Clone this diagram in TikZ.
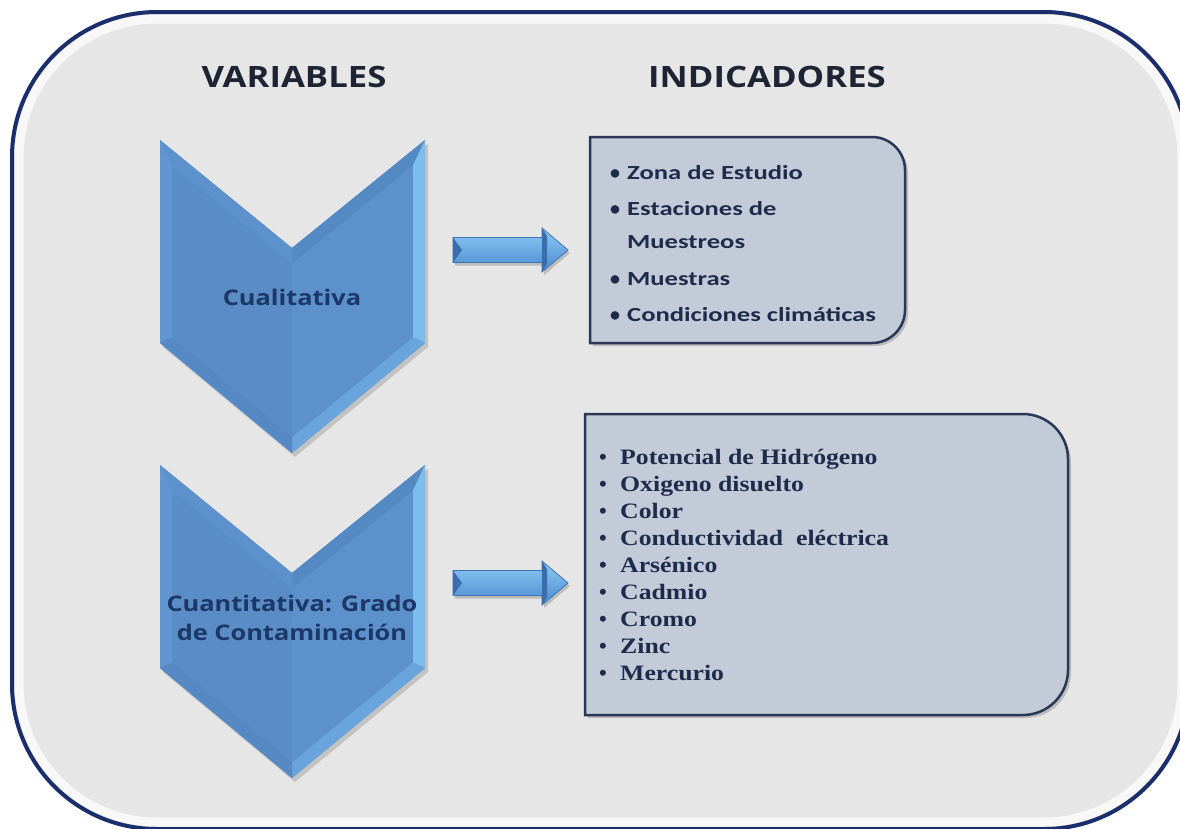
\documentclass[tikz,border=0pt]{standalone}
\usepackage{fontspec}
\usepackage{graphicx}
\newfontfamily\hfont{Open Sans}
\newfontfamily\cfont{Carlito}
\newfontfamily\tfont{Liberation Serif}
\newcommand\hx[1]{\scalebox{1.18}[1]{#1}}
\newcommand\cx[1]{\scalebox{1.33}[1]{#1}}
\newcommand\tx[1]{\scalebox{1.17}[1]{#1}}
\definecolor{outerfill}{HTML}{E6E6E6}
\definecolor{outerline}{HTML}{1B2E6C}
\definecolor{hdrc}{HTML}{1D2433}
\definecolor{chevc}{HTML}{1C3868}
\definecolor{listc}{HTML}{1E2B4A}
\definecolor{boxfill}{HTML}{C3CAD8}
\definecolor{boxline}{HTML}{2A3756}
\definecolor{chevmain}{HTML}{5B8FC9}
\definecolor{chevleft}{HTML}{5A8CC5}
\definecolor{chevright}{HTML}{5C91CB}
\definecolor{bvL}{HTML}{6296D0}
\definecolor{bvTL}{HTML}{5D91CB}
\definecolor{bvTR}{HTML}{5589C4}
\definecolor{bvR}{HTML}{7DBDEB}
\definecolor{bvBR}{HTML}{69A4DC}
\definecolor{bvBL}{HTML}{5689C3}
\definecolor{arrtop}{HTML}{8ECAF4}
\definecolor{arrbot}{HTML}{4A8AD0}
\definecolor{arredge}{HTML}{3E74B6}
\definecolor{arrdark}{HTML}{3A6DAE}
\begin{document}
\begin{tikzpicture}[x=1pt,y=-1pt,
  hdr/.style={font={\hfont\bfseries\fontsize{29.4}{35}\selectfont}, text=hdrc, inner sep=0pt},
  chevtxt/.style={font={\hfont\bfseries\fontsize{21.5}{29}\selectfont}, text=chevc, align=center, inner sep=0pt},
  citem/.style={font={\cfont\bfseries\fontsize{20}{24}\selectfont}, text=listc, anchor=base west, inner sep=0pt},
  cbul/.style={font={\cfont\bfseries\fontsize{20}{24}\selectfont}, text=listc, anchor=base, inner sep=0pt},
  titem/.style={font={\tfont\bfseries\fontsize{22}{26}\selectfont}, text=listc, anchor=base west, inner sep=0pt},
  tbul/.style={font={\tfont\bfseries\fontsize{22}{26}\selectfont}, text=listc, anchor=base, inner sep=0pt},
  chev/.pic={
    \fill[black,opacity=.15] (163,144) -- (295,252) -- (428,144) -- (428,347) -- (295,457) -- (163,347) -- cycle;
    \fill[chevmain] (160,140) -- (292,248) -- (425,140) -- (425,343) -- (292,453) -- (160,343) -- cycle;
    \fill[chevleft] (172,165.3) -- (292,263.5) -- (292,437.4) -- (172,337.4) -- cycle;
    \fill[chevright] (292,263.5) -- (413,165.3) -- (413,337.4) -- (292,437.4) -- cycle;
    \fill[bvL] (160,140) -- (172,165.3) -- (172,337.4) -- (160,343) -- cycle;
    \fill[bvTL] (160,140) -- (292,248) -- (292,263.5) -- (172,165.3) -- cycle;
    \fill[bvTR] (292,248) -- (425,140) -- (413,165.3) -- (292,263.5) -- cycle;
    \fill[bvR] (425,140) -- (425,343) -- (413,337.4) -- (413,165.3) -- cycle;
    \fill[bvBR] (425,343) -- (292,453) -- (292,437.4) -- (413,337.4) -- cycle;
    \fill[bvBL] (160,343) -- (172,337.4) -- (292,437.4) -- (292,453) -- cycle;
  },
  barrow/.pic={
    \fill[black,opacity=.18] (2,-9.5) -- (91,-9.5) -- (91,-19) -- (117,3) -- (91,25) -- (91,15.5) -- (2,15.5) -- cycle;
    \shade[top color=arrtop, bottom color=arrbot, draw=arredge, line width=.8pt] (0,-12.5) -- (89,-12.5) -- (89,-22) -- (115,0) -- (89,22) -- (89,12.5) -- (0,12.5) -- cycle;
    \fill[arrdark] (0,-12.5) -- (9,0) -- (0,12.5) -- cycle;
    \fill[arrdark] (89,-22) -- (94,-14) -- (94,14) -- (89,22) -- cycle;
  }
]
\useasboundingbox (0,0) rectangle (1180,828);
\fill[white] (0,0) rectangle (1180,828);
\begin{scope}
\clip (0,0) rectangle (1180,828);
\fill[outerfill, rounded corners=145pt] (12,12) rectangle (1189,829);
\draw[white, line width=9pt, opacity=.75, rounded corners=138pt] (19,19) rectangle (1182,822);
\draw[outerline, line width=4pt, rounded corners=145pt] (12,12) rectangle (1189,829);
\end{scope}

% headers
\node[hdr] (vars) at (294,77) {\hx{VARIABLES}};
\node[hdr] (inds) at (767,77) {\hx{INDICADORES}};

% chevrons
\pic at (0,0) {chev};
\pic at (0,325) {chev};
\node[chevtxt] (cual) at (292,297) {\hx{Cualitativa}};
\node[chevtxt] (cuan) at (292,618) {\hx{Cuantitativa: Grado}\\\hx{de Contaminación}};

% arrows
\pic at (453,250) {barrow};
\pic at (453,583) {barrow};

% top box
\fill[black,opacity=.18] (593,140) -- (875,140) .. controls (893.2,140) and (908,154.8) .. (908,173) -- (908,313) .. controls (908,331.2) and (893.2,346) .. (875,346) -- (593,346) -- cycle;
\filldraw[fill=boxfill, draw=boxline, line width=2.5pt] (590,137) -- (872,137) .. controls (890.2,137) and (905,151.8) .. (905,170) -- (905,310) .. controls (905,328.2) and (890.2,343) .. (872,343) -- (590,343) -- cycle;

% bottom box
\fill[black,opacity=.18] (588,417) -- (1026,417) .. controls (1050.8,417) and (1071,437.2) .. (1071,462) -- (1071,673) .. controls (1071,697.8) and (1050.8,718) .. (1026,718) -- (588,718) -- cycle;
\filldraw[fill=boxfill, draw=boxline, line width=2.5pt] (585,414) -- (1023,414) .. controls (1047.8,414) and (1068,434.2) .. (1068,459) -- (1068,670) .. controls (1068,694.8) and (1047.8,715) .. (1023,715) -- (585,715) -- cycle;

% top box items
\node[cbul] (tb1) at (615,179.5) {•};
\node[citem] (t1) at (627,179.5) {\cx{Zona de Estudio}};
\node[cbul] (tb2) at (615,215.5) {•};
\node[citem] (t2) at (627,215.5) {\cx{Estaciones de}};
\node[citem] (t2b) at (627,248.5) {\cx{Muestreos}};
\node[cbul] (tb3) at (615,285.5) {•};
\node[citem] (t3) at (627,285.5) {\cx{Muestras}};
\node[cbul] (tb4) at (615,321.5) {•};
\node[citem] (t4) at (627,321.5) {\cx{Condiciones climáticas}};

% bottom box items
\foreach \t [count=\i] in {{Potencial de Hidrógeno},{Oxigeno disuelto},{Color},{Conductividad~~eléctrica},{Arsénico},{Cadmio},{Cromo},{Zinc},{Mercurio}}{
  \node[tbul] (bb\i) at (603,{464.3+27*(\i-1)}) {•};
  \node[titem] (b\i) at (620,{464.3+27*(\i-1)}) {\tx{\t}};
}
\end{tikzpicture}
\end{document}
